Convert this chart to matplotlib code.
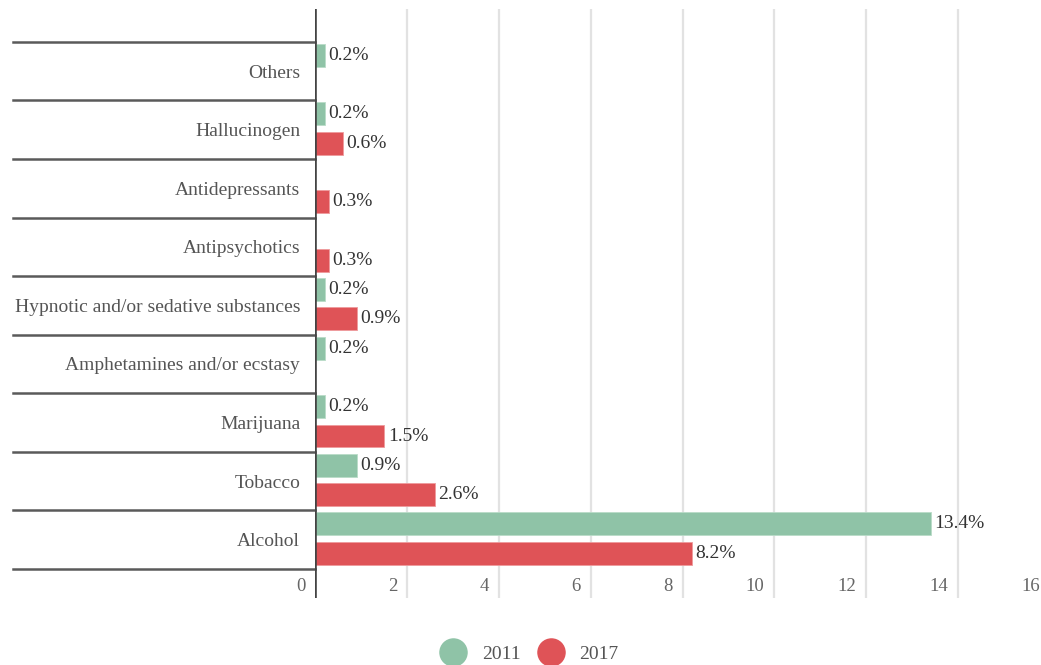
import numpy as np
import matplotlib
matplotlib.use("Agg")
import matplotlib.pyplot as plt
from matplotlib.lines import Line2D
from matplotlib.transforms import offset_copy

plt.rcParams['font.family'] = ['Liberation Serif', 'DejaVu Serif']

# Data (bottom to top)
categories = [
    "Alcohol",
    "Tobacco",
    "Marijuana",
    "Amphetamines and/or ecstasy",
    "Hypnotic and/or sedative substances",
    "Antipsychotics",
    "Antidepressants",
    "Hallucinogen",
    "Others",
]
values_2011 = [13.4, 0.9, 0.2, 0.2, 0.2, np.nan, np.nan, 0.2, 0.2]
values_2017 = [8.2, 2.6, 1.5, np.nan, 0.9, 0.3, 0.3, 0.6, np.nan]
series_names = ["2011", "2017"]
x_ticks = [0, 2, 4, 6, 8, 10, 12, 14, 16]

green = "#8fc3a7"
red = "#df5357"

fig = plt.figure(figsize=(10.41, 6.65), dpi=100)
ax = fig.add_axes([0.303, 0.1008, 0.7055, 0.8857])

y = np.arange(len(categories))
bar_h = 0.39

ax.barh(y + 0.27, values_2011, height=bar_h, color=green, edgecolor="#b9dcc8", linewidth=0.6, zorder=3)
ax.barh(y - 0.23, values_2017, height=bar_h, color=red, edgecolor="#ee9a9c", linewidth=0.6, zorder=3)

# value labels
for vals, off in [(values_2011, 0.27), (values_2017, -0.23)]:
    for yi, v in zip(y, vals):
        if np.isnan(v):
            continue
        ax.annotate(f"{v:.1f}%", xy=(v, yi + off), xytext=(2.5, 0), textcoords="offset points",
                    ha="left", va="center", fontsize=14, color="#333333", zorder=4)

ax.set_xlim(0, 16)
ax.set_ylim(-0.995, 9.06)

for s in ax.spines.values():
    s.set_visible(False)

ax.set_xticks(x_ticks)
ax.grid(axis="x", color="#e2e2e2", linewidth=1.6, zorder=0)
ax.tick_params(axis="x", length=0, labelbottom=False)
ax.axvline(0, color="#444444", linewidth=2.6, zorder=5)

# x tick labels sit inside the plot area, just left of each gridline
tr = offset_copy(ax.get_xaxis_transform(), fig=fig, x=-10, y=0, units="dots")
for t in x_ticks:
    ax.text(t, 0.019, str(t), transform=tr, ha="right", va="center",
            fontsize=13.5, color="#666666")

ax.set_yticks(y)
ax.set_yticklabels(categories, fontsize=14, color="#555555")
ax.tick_params(axis="y", length=0, pad=11)

# category separators
ytr = ax.get_yaxis_transform()
for b in np.arange(-0.5, len(categories), 1.0):
    ax.plot([-0.4124, 0], [b, b], transform=ytr, color="#5a5a5a", linewidth=1.8,
            clip_on=False, zorder=4)

handles = [
    Line2D([], [], linestyle="none", marker="o", markersize=19.5, color=green),
    Line2D([], [], linestyle="none", marker="o", markersize=19.5, color=red),
]
fig.legend(handles, series_names, loc="center", bbox_to_anchor=(0.508, 0.0165),
           ncol=2, frameon=False, fontsize=14, handlelength=1.5,
           handletextpad=0.7, columnspacing=0.85, labelcolor="#555555",
           borderpad=0)

fig.savefig("out.png", dpi=100)
